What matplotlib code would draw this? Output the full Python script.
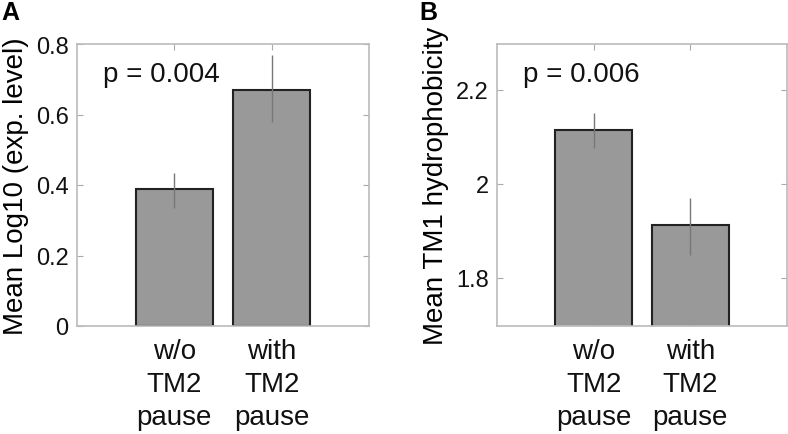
import matplotlib
matplotlib.use("Agg")
import matplotlib.pyplot as plt

plt.rcParams['font.family'] = ['Liberation Sans', 'DejaVu Sans']

categories = ["w/o\nTM2\npause", "with\nTM2\npause"]

# panel A: mean log10 expression level
expr_mean = [0.388, 0.670]
expr_low = [0.334, 0.578]
expr_high = [0.434, 0.768]

# panel B: mean TM1 hydrophobicity
hyd_mean = [2.115, 1.911]
hyd_low = [2.076, 1.847]
hyd_high = [2.150, 1.970]

p_values = ["p = 0.004", "p = 0.006"]

fig = plt.figure(figsize=(7.88, 4.35), dpi=100)
axA = fig.add_axes([77/788, 1 - 327/435, 292/788, 282/435])
axB = fig.add_axes([497/788, 1 - 327/435, 290/788, 282/435])


def draw(ax, mean, low, high, ylim, yticks, yticklabels, ylabel, ptxt, py):
    x = [1, 2]
    ax.bar(x, mean, width=0.79, color="#999999", edgecolor="#222222",
           linewidth=1.5, zorder=2)
    err = [[m - l for m, l in zip(mean, low)], [h - m for m, h in zip(mean, high)]]
    ax.errorbar(x, mean, yerr=err, fmt="none", ecolor="#777777",
                elinewidth=1.0, capsize=0, zorder=3)
    ax.set_xlim(0, 3)
    ax.set_ylim(*ylim)
    ax.set_xticks(x)
    ax.set_xticklabels(categories, fontsize=20, linespacing=1.35)
    ax.set_yticks(yticks)
    ax.set_yticklabels(yticklabels, fontsize=17)
    ax.set_ylabel(ylabel, fontsize=20, labelpad=5)
    ax.tick_params(direction="in", length=4, color="#aaaaaa", top=True,
                   right=True, labelcolor="#111111", pad=6)
    ax.tick_params(axis="x", pad=9)
    for s in ax.spines.values():
        s.set_color("#bbbbbb")
        s.set_linewidth(1.2)
    ax.text(0.27, py, ptxt, fontsize=20, va="center", ha="left", color="#111111")


draw(axA, expr_mean, expr_low, expr_high, (0, 0.8), [0, 0.2, 0.4, 0.6, 0.8],
     ["0", "0.2", "0.4", "0.6", "0.8"], "Mean Log10 (exp. level)", p_values[0], 0.716)
draw(axB, hyd_mean, hyd_low, hyd_high, (1.697, 2.297), [1.8, 2.0, 2.2],
     ["1.8", "2", "2.2"], "Mean TM1 hydrophobicity", p_values[1], 2.233)

fig.text(1/788, 1 - 1/435, "A", fontsize=18, fontweight="bold", va="top", ha="left")
fig.text(419/788, 1 - 1/435, "B", fontsize=18, fontweight="bold", va="top", ha="left")

fig.savefig("out.png", dpi=100)
